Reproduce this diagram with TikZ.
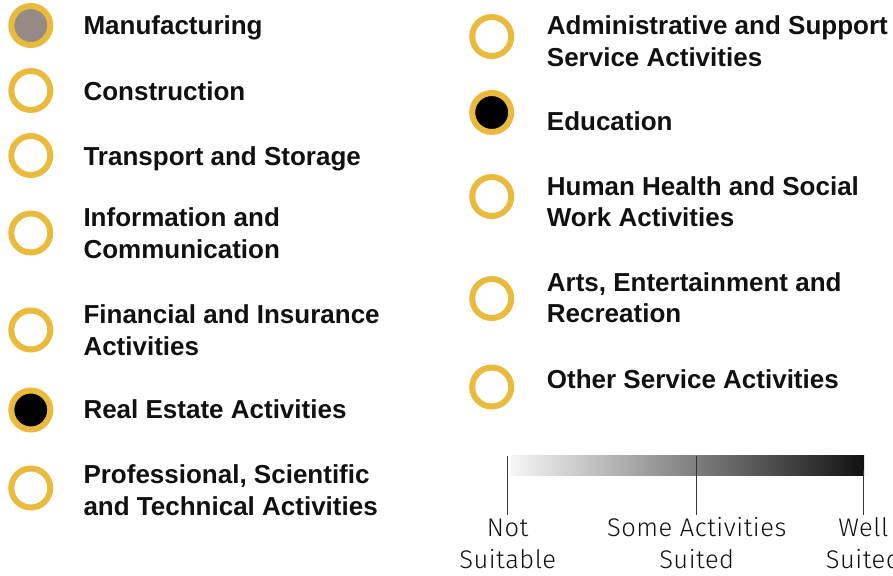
\documentclass[tikz,border=0pt]{standalone}
\usepackage{fontspec}
\setmainfont{Liberation Sans}
\newfontfamily\lightfont{Fira Sans Light}[LetterSpace=2]
\definecolor{gold}{RGB}{233,186,60}
\definecolor{mgrey}{RGB}{150,138,134}
\definecolor{txt}{RGB}{17,17,17}
\definecolor{tick}{RGB}{55,55,55}
\begin{document}
\begin{tikzpicture}[x=1pt,y=-1pt,
  dot/.style={circle,draw=gold,line width=6pt,minimum size=39pt,inner sep=0pt},
  lab/.style={anchor=base west,inner sep=0pt,align=left,text=txt,
    font=\fontsize{26}{31.7}\selectfont\bfseries},
  scl/.style={anchor=base,inner sep=0pt,align=center,text=txt,
    font=\fontsize{25.5}{31.6}\selectfont\lightfont},
  tickline/.style={draw=tick,line width=1.3pt}]
\useasboundingbox (0,0) rectangle (893,575);
% left column
\node[dot,fill=mgrey] (c1) at (30.8,25.5) {};
\node[lab] (t1) at (83.3,35) {Manufacturing};
\node[dot] (c2) at (30.8,90.5) {};
\node[lab] (t2) at (83.3,100) {Construction};
\node[dot] (c3) at (30.8,155.5) {};
\node[lab] (t3) at (83.3,165) {Transport and Storage};
\node[dot] (c4) at (30.8,233) {};
\node[lab] (t4) at (83.3,258.4) {Information and\\Communication};
\node[dot] (c5) at (30.8,330) {};
\node[lab] (t5) at (83.3,355) {Financial and Insurance\\Activities};
\node[dot,fill=black] (c6) at (30.8,410) {};
\node[lab] (t6) at (83.3,418.3) {Real Estate Activities};
\node[dot] (c7) at (30.8,488) {};
\node[lab] (t7) at (83.3,515) {Professional, Scientific\\and Technical Activities};
% right column
\node[dot] (c8) at (491.7,36.5) {};
\node[lab] (t8) at (546.7,66.7) {Administrative and Support\\Service Activities};
\node[dot,fill=black] (c9) at (491.7,112.5) {};
\node[lab] (t9) at (546.7,130.7) {Education};
\node[dot] (c10) at (491.7,196.5) {};
\node[lab] (t10) at (546.7,226.7) {Human Health and Social\\Work Activities};
\node[dot] (c11) at (491.7,298.5) {};
\node[lab] (t11) at (546.7,322.7) {Arts, Entertainment and\\Recreation};
\node[dot] (c12) at (491.7,387) {};
\node[lab] (t12) at (546.7,388.3) {Other Service Activities};
% scale
\shade[left color=white!96!black,right color=black!93!white]
  (511.7,455.7) rectangle (864,475);
\coordinate (a1) at (507.7,455.7); \coordinate (a2) at (507.7,515);
\coordinate (b1) at (696.7,455.7); \coordinate (b2) at (696.7,515);
\coordinate (e1) at (863.3,470);   \coordinate (e2) at (863.3,515);
\draw[tickline] (a1) -- (a2);
\draw[tickline] (b1) -- (b2);
\draw[tickline] (e1) -- (e2);
\node[scl] (s1) at (507.7,568.3) {Not\\Suitable};
\node[scl] (s2) at (696.7,568.3) {Some Activities\\Suited};
\node[scl] (s3) at (863.3,568.3) {Well\\Suited};
\end{tikzpicture}
\end{document}
